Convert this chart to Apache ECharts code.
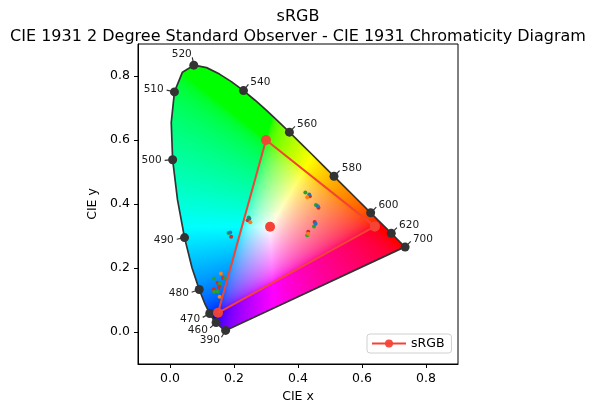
<!DOCTYPE html>
<html>
<head>
<meta charset="utf-8">
<script src="https://cdn.jsdelivr.net/npm/echarts@6/dist/echarts.min.js"></script>
<style>html,body{margin:0;padding:0;background:#fff;}#chart{width:596px;height:415px;}</style>
</head>
<body>
<div id="chart"></div>
<script>
// ---------------- data ----------------
const locusWl = [380,385,390,395,400,405,410,415,420,425,430,435,440,445,450,455,460,465,470,475,480,485,490,495,500,505,510,515,520,525,530,535,540,545,550,555,560,565,570,575,580,585,590,595,600,605,610,615,620,625,630,635,640,645,650,655,660,665,670,675,680,685,690,695,700];
const locusX = [0.1741,0.1740,0.1738,0.1736,0.1733,0.1730,0.1726,0.1721,0.1714,0.1703,0.1689,0.1669,0.1644,0.1611,0.1566,0.1510,0.1440,0.1355,0.1241,0.1096,0.0913,0.0687,0.0454,0.0235,0.0082,0.0039,0.0139,0.0389,0.0743,0.1142,0.1547,0.1929,0.2296,0.2658,0.3016,0.3373,0.3731,0.4087,0.4441,0.4788,0.5125,0.5448,0.5752,0.6029,0.6270,0.6482,0.6658,0.6801,0.6915,0.7006,0.7079,0.7140,0.7190,0.7230,0.7260,0.7283,0.7300,0.7311,0.7320,0.7327,0.7334,0.7340,0.7344,0.7346,0.7347];
const locusY = [0.0050,0.0050,0.0049,0.0049,0.0048,0.0048,0.0048,0.0048,0.0051,0.0058,0.0069,0.0086,0.0109,0.0138,0.0177,0.0227,0.0297,0.0399,0.0578,0.0868,0.1327,0.2007,0.2950,0.4127,0.5384,0.6548,0.7502,0.8120,0.8338,0.8262,0.8059,0.7816,0.7543,0.7243,0.6923,0.6589,0.6245,0.5896,0.5547,0.5202,0.4866,0.4544,0.4242,0.3965,0.3725,0.3514,0.3340,0.3197,0.3083,0.2993,0.2920,0.2859,0.2809,0.2770,0.2740,0.2717,0.2700,0.2689,0.2680,0.2673,0.2666,0.2660,0.2656,0.2654,0.2653];
const labelWl = [390,460,470,480,490,500,510,520,540,560,580,600,620,700];

const srgbX = [0.64, 0.30, 0.15];
const srgbY = [0.33, 0.60, 0.06];
const whitePoint = [0.3127, 0.3290];

const dotsRed = [[0.191,0.298],[0.243,0.349],[0.437,0.424],[0.464,0.388],[0.452,0.344],[0.432,0.313],[0.166,0.169],[0.149,0.154],[0.153,0.141],[0.137,0.133]];
const dotsGreen = [[0.183,0.309],[0.246,0.358],[0.423,0.436],[0.456,0.397],[0.450,0.330],[0.429,0.302],[0.1375,0.167],[0.172,0.168],[0.156,0.152],[0.138,0.126],[0.149,0.126]];
const dotsBlue = [[0.188,0.311],[0.248,0.354],[0.435,0.430],[0.462,0.393],[0.455,0.338]];
const dotsOrange = [[0.251,0.343],[0.429,0.421],[0.432,0.307],[0.159,0.183],[0.155,0.110]];

const tickValues = [0.0, 0.2, 0.4, 0.6, 0.8];
const titleLines = ['sRGB', 'CIE 1931 2 Degree Standard Observer - CIE 1931 Chromaticity Diagram'];

// ---------------- helpers ----------------
const X_MIN = -0.1, X_MAX = 0.9, Y_MIN = -0.1, Y_MAX = 0.9;
const FONT = 'DejaVu Sans';
const DARK = '#333333';
const SRGB_COL = '#F44336';

function xyToColour(x, y) {
  if (y < 1e-6) y = 1e-6;
  const X = x / y, Y = 1, Z = (1 - x - y) / y;
  let r = 3.2404542*X - 1.5371385*Y - 0.4985314*Z;
  let g = -0.9692660*X + 1.8760108*Y + 0.0415560*Z;
  let b = 0.0556434*X - 0.2040259*Y + 1.0572252*Z;
  const m = Math.max(r, g, b, 1e-9);
  const enc = v => {
    v = Math.min(1, Math.max(0, v / m));
    return v <= 0.0031308 ? 12.92 * v : 1.055 * Math.pow(v, 1/2.4) - 0.055;
  };
  return [enc(r)*255, enc(g)*255, enc(b)*255];
}

let fillCache = null;
function renderFill(params, api) {
  const p0 = api.coord([X_MIN, Y_MAX]);
  const p1 = api.coord([X_MAX, Y_MIN]);
  const W = Math.round(p1[0] - p0[0]), H = Math.round(p1[1] - p0[1]);
  const key = W + 'x' + H + ':' + p0.join(',');
  if (!fillCache || fillCache.key !== key) {
    const cv = document.createElement('canvas');
    cv.width = W; cv.height = H;
    const ctx = cv.getContext('2d');
    const img = ctx.createImageData(W, H);
    for (let j = 0; j < H; j++) {
      const yy = Y_MAX - (j + 0.5) / H * (Y_MAX - Y_MIN);
      for (let i = 0; i < W; i++) {
        const xx = X_MIN + (i + 0.5) / W * (X_MAX - X_MIN);
        const c = xyToColour(xx, yy);
        const k = (j * W + i) * 4;
        img.data[k] = c[0]; img.data[k+1] = c[1]; img.data[k+2] = c[2]; img.data[k+3] = 255;
      }
    }
    ctx.putImageData(img, 0, 0);
    ctx.globalCompositeOperation = 'destination-in';
    ctx.beginPath();
    for (let n = 0; n < locusX.length; n++) {
      const q = api.coord([locusX[n], locusY[n]]);
      if (n === 0) ctx.moveTo(q[0] - p0[0], q[1] - p0[1]);
      else ctx.lineTo(q[0] - p0[0], q[1] - p0[1]);
    }
    ctx.closePath();
    ctx.fillStyle = '#000';
    ctx.fill();
    fillCache = { key, cv };
  }
  return {
    type: 'image',
    style: { image: fillCache.cv, x: p0[0], y: p0[1], width: W, height: H },
    silent: true
  };
}

function renderLabel(params, api) {
  const wl = labelWl[params.dataIndex];
  const idx = locusWl.indexOf(wl);
  const n = locusWl.length;
  const p = api.coord([locusX[idx], locusY[idx]]);
  let tx = 0, ty = 0;
  for (let k = 1; k < n; k++) {
    const a = Math.max(0, idx - k), b = Math.min(n - 1, idx + k);
    tx = locusX[b] - locusX[a]; ty = locusY[b] - locusY[a];
    if (Math.hypot(tx, ty) > 0.01) break;
  }
  const qa = api.coord([0, 0]), qb = api.coord([tx, ty]);
  const px = qb[0] - qa[0], py = qb[1] - qa[1];
  let nx = -py, ny = px;
  const len = Math.hypot(nx, ny) || 1;
  nx /= len; ny /= len;
  const w = api.coord(whitePoint);
  if (nx * (p[0] - w[0]) + ny * (p[1] - w[1]) < 0) { nx = -nx; ny = -ny; }
  const L1 = 8, L2 = 11;
  return {
    type: 'group',
    children: [
      { type: 'line', shape: { x1: p[0], y1: p[1], x2: p[0] + nx * L1, y2: p[1] + ny * L1 },
        style: { stroke: DARK, lineWidth: 1.2 } },
      { type: 'text', x: p[0] + nx * L2, y: p[1] + ny * L2,
        style: { text: String(wl), fill: '#1a1a1a', fontSize: 10.5, fontFamily: FONT,
                 align: nx >= 0 ? 'left' : 'right', verticalAlign: 'middle' } }
    ]
  };
}

// ---------------- option ----------------
const locusLine = locusX.map((x, i) => [x, locusY[i]]);
locusLine.push([locusX[0], locusY[0]]);
const labelPts = labelWl.map(wl => { const i = locusWl.indexOf(wl); return [locusX[i], locusY[i]]; });
const srgbLine = srgbX.map((x, i) => [x, srgbY[i]]);
srgbLine.push([srgbX[0], srgbY[0]]);

const axisCommon = {
  type: 'value', min: X_MIN, max: X_MAX,
  nameLocation: 'middle',
  nameTextStyle: { fontSize: 12.5, color: '#000', fontFamily: FONT },
  axisLine: { show: true, onZero: false, lineStyle: { color: '#000', width: 1 } },
  axisTick: { show: true, length: 4, lineStyle: { color: '#000' }, customValues: tickValues },
  axisLabel: { customValues: tickValues, formatter: v => Number(v).toFixed(1), color: '#000', fontSize: 12.5, fontFamily: FONT, margin: 8 },
  splitLine: { show: false }
};

const option = {
  animation: false,
  backgroundColor: '#fff',
  title: {
    text: titleLines.join('\n'), left: 'center', top: 2,
    textStyle: { fontSize: 16, fontWeight: 'normal', color: '#000', fontFamily: FONT, lineHeight: 20 }
  },
  grid: { left: 138, top: 44, width: 320, height: 320, show: true, borderColor: '#000', borderWidth: 1, backgroundColor: 'transparent' },
  xAxis: Object.assign({}, axisCommon, { name: 'CIE x', nameGap: 26 }),
  yAxis: Object.assign({}, axisCommon, { min: Y_MIN, max: Y_MAX, name: 'CIE y', nameGap: 35 }),
  legend: {
    data: ['sRGB'], left: 367, top: 334, padding: [3, 7, 3, 4],
    itemWidth: 34, itemHeight: 10,
    borderColor: '#d0d0d0', borderWidth: 1, borderRadius: 3, backgroundColor: 'rgba(255,255,255,0.85)',
    textStyle: { fontSize: 12.5, color: '#000', fontFamily: FONT }
  },
  series: [
    { type: 'custom', name: 'fill', coordinateSystem: 'cartesian2d', renderItem: renderFill, data: [[X_MIN, Y_MAX]], z: 1, silent: true },
    { type: 'line', name: 'locus', data: locusLine, showSymbol: false, symbol: 'none', lineStyle: { color: DARK, width: 1.7 }, z: 2, silent: true },
    { type: 'custom', name: 'labels', coordinateSystem: 'cartesian2d', renderItem: renderLabel, data: labelPts, z: 3, silent: true },
    { type: 'scatter', name: 'locusMarkers', data: labelPts, symbol: 'circle', symbolSize: 9, itemStyle: { color: DARK, opacity: 1 }, z: 4, silent: true },
    { type: 'scatter', name: 'red', data: dotsRed, symbolSize: 4, itemStyle: { color: '#d62728', opacity: 1 }, z: 5, silent: true },
    { type: 'scatter', name: 'green', data: dotsGreen, symbolSize: 4, itemStyle: { color: '#2ca02c', opacity: 1 }, z: 5, silent: true },
    { type: 'scatter', name: 'blue', data: dotsBlue, symbolSize: 4, itemStyle: { color: '#1f77b4', opacity: 1 }, z: 5, silent: true },
    { type: 'scatter', name: 'orange', data: dotsOrange, symbolSize: 4, itemStyle: { color: '#ff7f0e', opacity: 1 }, z: 5, silent: true },
    { type: 'line', name: 'sRGB', data: srgbLine, symbol: 'circle', symbolSize: 10, showAllSymbol: true,
      lineStyle: { color: SRGB_COL, width: 2 }, itemStyle: { color: SRGB_COL, opacity: 0.95 }, z: 6, silent: true },
    { type: 'scatter', name: 'whitepoint', data: [whitePoint], symbolSize: 10, itemStyle: { color: SRGB_COL, opacity: 1 }, z: 6, silent: true }
  ]
};

const chart = echarts.init(document.getElementById('chart'), null, { renderer: 'canvas' });
chart.setOption(option);
</script>
</body>
</html>
